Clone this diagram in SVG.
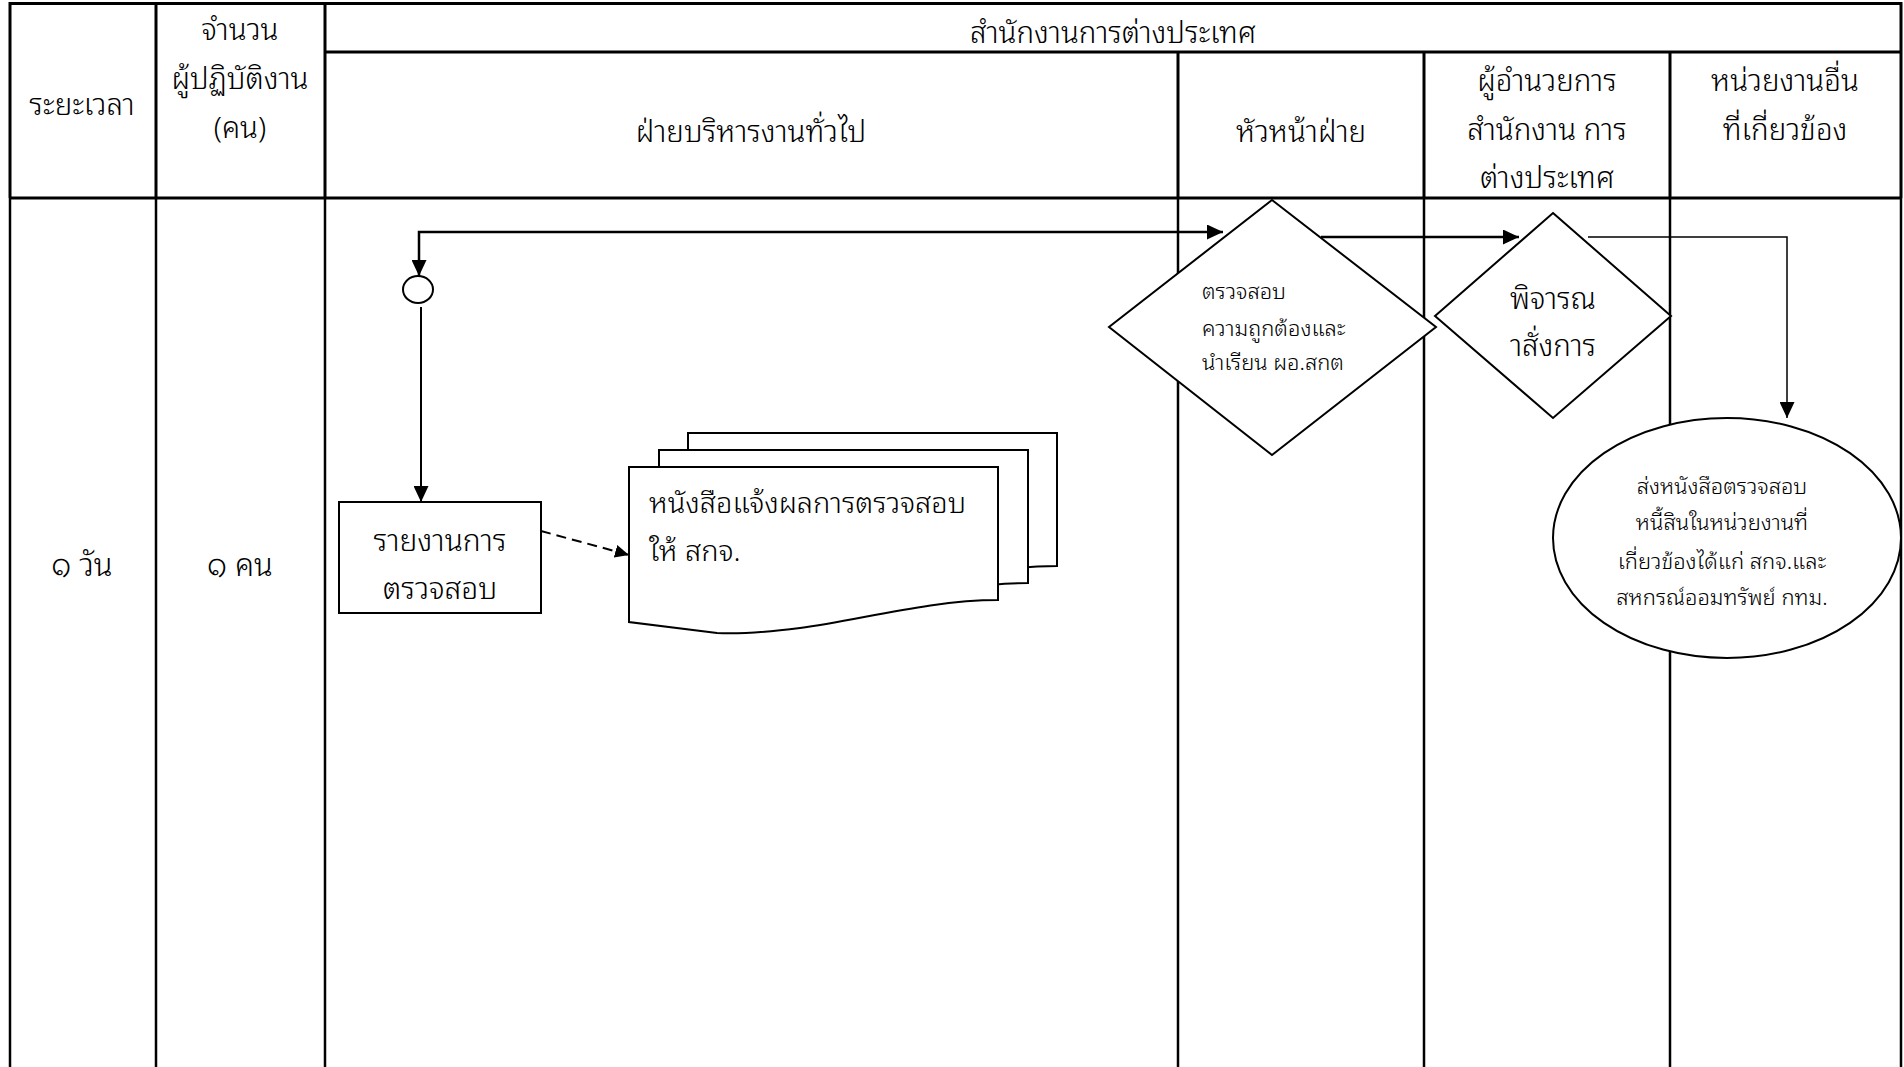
<svg xmlns="http://www.w3.org/2000/svg" width="1904" height="1067" viewBox="0 0 1904 1067">
  <style>
    .grid { stroke: #000; fill: none; }
    .hd { stroke-width: 3; }
    .bd { stroke-width: 2.5; }
    .shape { fill: #fff; stroke: #000; stroke-width: 2; }
    .conn { fill: none; stroke: #000; }
    .t { font-family: "Noto Sans Thai Looped", "Noto Sans Thai", "Noto Sans", "DejaVu Sans", sans-serif; font-weight: 350; fill: #000; }
    .h { font-size: 29.5px; text-anchor: middle; }
    .c { text-anchor: middle; }
  </style>
  <defs>
    <marker id="arrow" viewBox="0 0 16 15" refX="16" refY="7.5" markerWidth="16" markerHeight="15" markerUnits="userSpaceOnUse" orient="auto-start-reverse">
      <path d="M0,0 L16,7.5 L0,15 z" fill="#000"/>
    </marker>
    <marker id="arrowSmall" viewBox="0 0 14 13" refX="14" refY="6.5" markerWidth="14" markerHeight="13" markerUnits="userSpaceOnUse" orient="auto">
      <path d="M0,0 L14,6.5 L0,13 z" fill="#000"/>
    </marker>
    <!-- one sheet of the document stack, wavy bottom edge -->
    <path id="sheet" d="M629,467 H998 V600 C930,600 860,620 800,628 C760,633 735,634 717,633 L629,622 Z"/>
  </defs>

  <rect width="1904" height="1067" fill="#fff"/>

  <!-- swimlane table -->
  <g id="table">
    <path class="grid hd" d="M10,3.5 H1901 M325,52 H1901 M10,198 H1901"/>
    <path class="grid hd" d="M10,2 V198 M156,2 V198 M325,2 V198 M1178,52 V198 M1424,52 V198 M1670,52 V198 M1901,2 V198"/>
    <path class="grid bd" d="M10,198 V1067 M156,198 V1067 M325,198 V1067 M1178,198 V1067 M1424,198 V1067 M1670,198 V1067 M1901,198 V1067"/>

    <text class="t h" x="82" y="115">ระยะเวลา</text>
    <text class="t h" x="240" y="40">จำนวน</text>
    <text class="t h" x="240" y="89">ผู้ปฏิบัติงาน</text>
    <text class="t h" x="240" y="138">(คน)</text>
    <text class="t h" x="1113" y="43">สำนักงานการต่างประเทศ</text>
    <text class="t h" x="751" y="142">ฝ่ายบริหารงานทั่วไป</text>
    <text class="t h" x="1301" y="142">หัวหน้าฝ่าย</text>
    <text class="t h" x="1547" y="91">ผู้อำนวยการ</text>
    <text class="t h" x="1547" y="140">สำนักงาน การ</text>
    <text class="t h" x="1547" y="188">ต่างประเทศ</text>
    <text class="t h" x="1785" y="91">หน่วยงานอื่น</text>
    <text class="t h" x="1785" y="140">ที่เกี่ยวข้อง</text>

    <text class="t c" x="82" y="576" font-size="31">๑ วัน</text>
    <text class="t c" x="240" y="576" font-size="31">๑ คน</text>
  </g>

  <!-- connectors -->
  <g id="connectors">
    <path class="conn" stroke-width="2.5" d="M419,276 V232 H1223" marker-start="url(#arrow)" marker-end="url(#arrow)"/>
    <path class="conn" stroke-width="2" d="M421,307 V502" marker-end="url(#arrow)"/>
    <path class="conn" stroke-width="2" stroke-dasharray="10 6" d="M541,531 L629,555" marker-end="url(#arrowSmall)"/>
    <path class="conn" stroke-width="2.5" d="M1321,237 H1519" marker-end="url(#arrow)"/>
    <path class="conn" stroke-width="1.5" d="M1588,237 H1787 V418" marker-end="url(#arrow)"/>
  </g>

  <!-- connector junction -->
  <g id="node-junction">
    <ellipse class="shape" cx="418" cy="289.5" rx="15" ry="13.5"/>
  </g>

  <!-- report process -->
  <g id="node-report">
    <rect class="shape" x="339" y="502" width="202" height="111"/>
    <text class="t c" x="440" y="551" font-size="30">รายงานการ</text>
    <text class="t c" x="440" y="599" font-size="30">ตรวจสอบ</text>
  </g>

  <!-- stacked documents -->
  <g id="node-letters">
    <use href="#sheet" class="shape" transform="translate(59,-34)"/>
    <use href="#sheet" class="shape" transform="translate(30,-17)"/>
    <use href="#sheet" class="shape"/>
    <text class="t" x="649" y="513" font-size="29">หนังสือแจ้งผลการตรวจสอบ</text>
    <text class="t" x="649" y="561" font-size="29">ให้ สกจ.</text>
  </g>

  <!-- decision: head of division -->
  <g id="node-check">
    <polygon class="shape" points="1272,200 1436,327 1272,455 1109,327"/>
    <text class="t" x="1202" y="299" font-size="22">ตรวจสอบ</text>
    <text class="t" x="1202" y="336" font-size="22">ความถูกต้องและ</text>
    <text class="t" x="1202" y="370" font-size="22">นำเรียน ผอ.สกต</text>
  </g>

  <!-- decision: director -->
  <g id="node-approve">
    <polygon class="shape" points="1553,213 1671,316 1553,418 1435,316"/>
    <text class="t c" x="1553" y="309" font-size="29.5">พิจารณ</text>
    <text class="t c" x="1553" y="356" font-size="29.5">าสั่งการ</text>
  </g>

  <!-- terminal: send to related units -->
  <g id="node-send">
    <ellipse class="shape" cx="1727" cy="538" rx="174" ry="120"/>
    <text class="t c" x="1722" y="494" font-size="22">ส่งหนังสือตรวจสอบ</text>
    <text class="t c" x="1722" y="530" font-size="22">หนี้สินในหน่วยงานที่</text>
    <text class="t c" x="1722" y="569" font-size="22">เกี่ยวข้องได้แก่ สกจ.และ</text>
    <text class="t c" x="1722" y="605" font-size="22">สหกรณ์ออมทรัพย์ กทม.</text>
  </g>
</svg>
